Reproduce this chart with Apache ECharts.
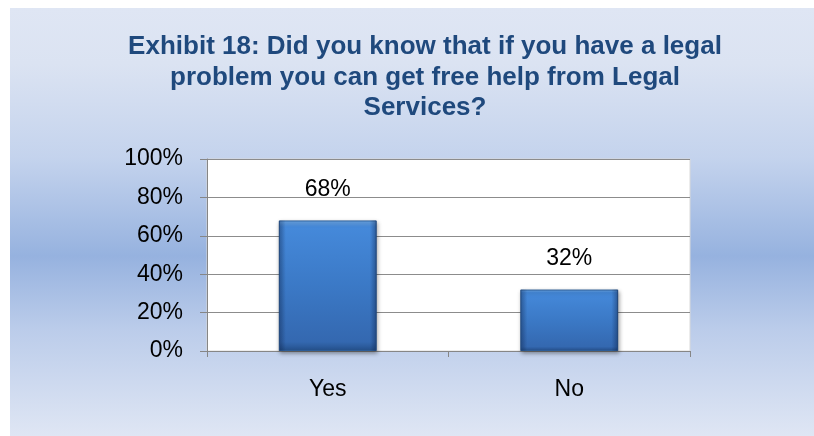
<!DOCTYPE html>
<html>
<head>
<meta charset="utf-8">
<script src="https://cdn.jsdelivr.net/npm/echarts@6/dist/echarts.min.js"></script>
<style>
  html, body { margin: 0; padding: 0; background: #ffffff; }
  #chart { width: 814px; height: 436px; }
</style>
</head>
<body>
<div id="chart"></div>
<script>
// Survey answers and their shares (percent)
const categories = ['Yes', 'No'];
const shares = [68, 32];
const yTicks = [0, 20, 40, 60, 80, 100];

const titleLines = [
  'Exhibit 18: Did you know that if you have a legal',
  'problem you can get free help from Legal',
  'Services?'
];

const chart = echarts.init(document.getElementById('chart'), null, { renderer: 'canvas' });

const G = echarts.graphic.LinearGradient;

const option = {
  animation: false,
  textStyle: { fontFamily: 'Liberation Sans, Arial, sans-serif' },
  graphic: [{
    type: 'rect',
    z: -10,
    silent: true,
    shape: { x: 10, y: 8, width: 804, height: 428 },
    style: {
      fill: new G(0, 0, 0, 1, [
        { offset: 0, color: '#dfe6f4' },
        { offset: 0.13, color: '#dbe3f2' },
        { offset: 0.35, color: '#c4d3ed' },
        { offset: 0.58, color: '#96b2df' },
        { offset: 0.75, color: '#bbccea' },
        { offset: 1, color: '#dfe6f4' }
      ])
    }
  }],
  title: {
    text: titleLines.join('\n'),
    left: 420,
    top: 27,
    textAlign: 'center',
    textStyle: {
      fontFamily: 'Liberation Sans, Arial, sans-serif',
      fontSize: 26,
      fontWeight: 'bold',
      color: '#1f497d',
      lineHeight: 30.5
    }
  },
  grid: {
    left: 207,
    top: 159,
    right: 124,
    bottom: 85,
    show: true,
    backgroundColor: '#ffffff',
    borderColor: '#d9d9d9',
    borderWidth: 1
  },
  xAxis: {
    type: 'category',
    data: categories,
    axisLine: { lineStyle: { color: '#868686', width: 1 } },
    axisTick: { show: true, alignWithLabel: false, length: 6, lineStyle: { color: '#868686' } },
    axisLabel: { color: '#000000', fontSize: 23, margin: 27 },
    splitLine: { show: false }
  },
  yAxis: {
    type: 'value',
    min: 0,
    max: 100,
    interval: 20,
    axisLine: { show: true, lineStyle: { color: '#868686', width: 1 } },
    axisTick: { show: true, length: 7, lineStyle: { color: '#868686' } },
    axisLabel: {
      color: '#000000',
      fontSize: 23,
      margin: 24,
      formatter: function (v) { return yTicks.indexOf(v) >= 0 ? v + '%' : ''; }
    },
    splitLine: { lineStyle: { color: '#8c8c8c', width: 1 } }
  },
  series: [
    {
      name: 'Share',
      type: 'bar',
      data: shares,
      barWidth: '40.5%',
      itemStyle: {
        color: new G(0, 0, 0, 1, [
          { offset: 0, color: '#6ea9e8' },
          { offset: 0.05, color: '#4589da' },
          { offset: 0.5, color: '#3b79c6' },
          { offset: 0.93, color: '#3468b0' },
          { offset: 1, color: '#24508a' }
        ]),
        borderColor: '#2c5d98',
        borderWidth: 1,
        shadowColor: 'rgba(0,0,0,0.35)',
        shadowBlur: 4,
        shadowOffsetX: 1,
        shadowOffsetY: 2
      },
      label: {
        show: true,
        position: 'top',
        distance: 19,
        fontSize: 23,
        color: '#000000',
        formatter: function (p) { return p.value + '%'; }
      }
    },
    {
      // side shading of the bevelled bars
      name: 'Bevel',
      type: 'bar',
      data: shares,
      barWidth: '40.5%',
      barGap: '-100%',
      silent: true,
      itemStyle: {
        color: new G(0, 0, 1, 0, [
          { offset: 0, color: 'rgba(10,30,70,0.35)' },
          { offset: 0.07, color: 'rgba(10,30,70,0)' },
          { offset: 0.93, color: 'rgba(10,30,70,0)' },
          { offset: 1, color: 'rgba(10,30,70,0.4)' }
        ])
      }
    }
  ]
};

chart.setOption(option);
</script>
</body>
</html>
